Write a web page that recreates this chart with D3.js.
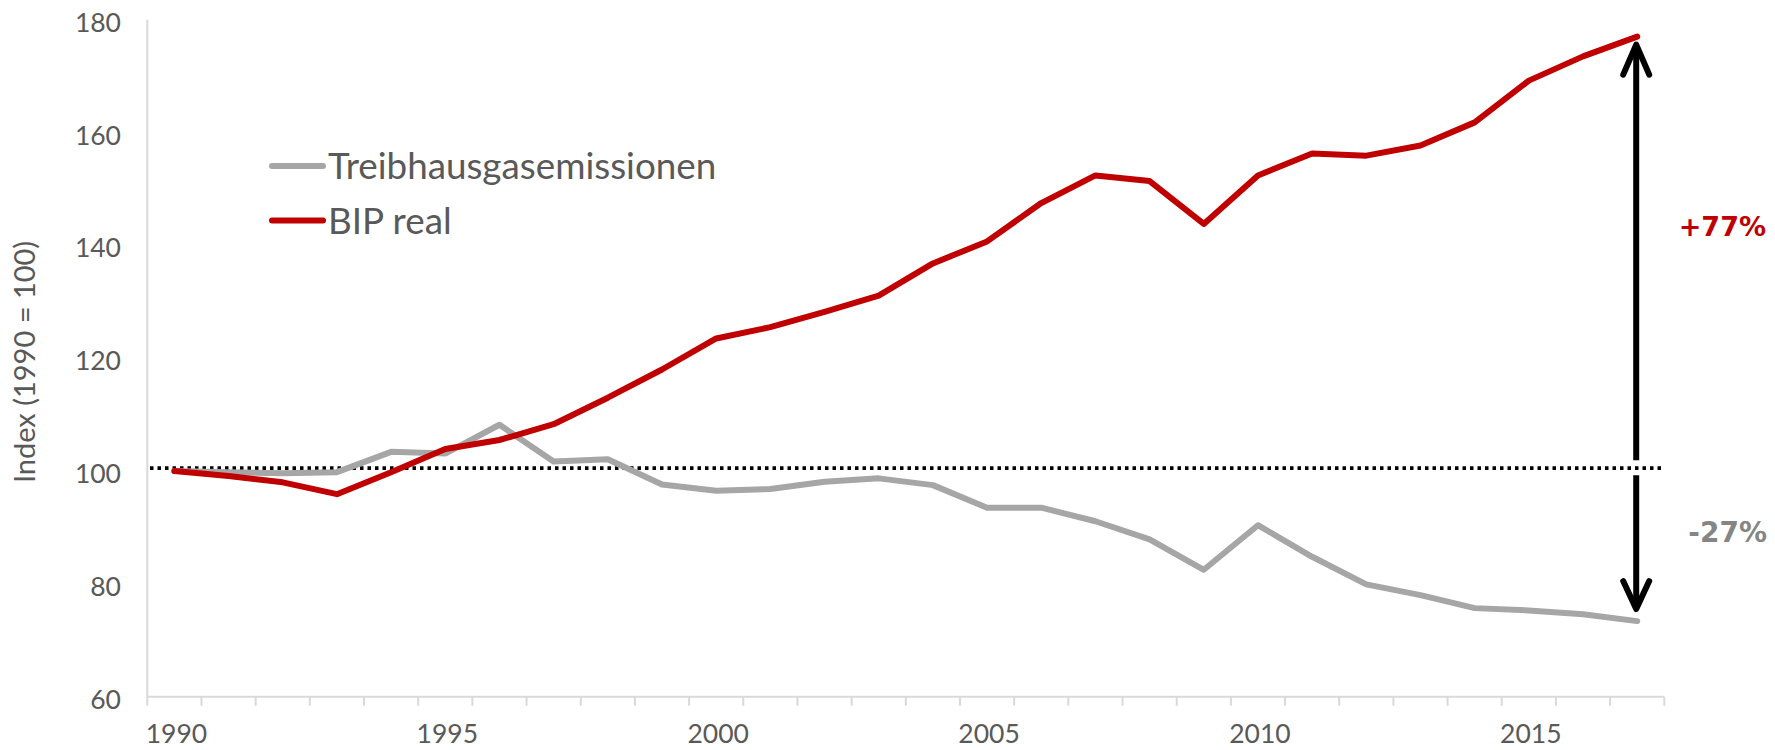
<!DOCTYPE html>
<html>
<head>
<meta charset="utf-8">
<script src="https://cdn.jsdelivr.net/npm/d3@7"></script>
<style>
  html, body { margin: 0; padding: 0; background: #ffffff; }
  svg { display: block; }
  text { font-family: "Lato", "Liberation Sans", sans-serif; }
  text.change { font-family: "DejaVu Sans", "Verdana", sans-serif; font-weight: bold; }
</style>
</head>
<body>
<svg id="chart" width="1775" height="750"></svg>
<script>
// Jahre (Kategorien der x-Achse)
const years = [1990, 1991, 1992, 1993, 1994, 1995, 1996, 1997, 1998, 1999,
               2000, 2001, 2002, 2003, 2004, 2005, 2006, 2007, 2008, 2009,
               2010, 2011, 2012, 2013, 2014, 2015, 2016, 2017];

// Treibhausgasemissionen, Index 1990 = 100
const ghg = [100.0, 99.8, 99.6, 99.8, 103.4, 103.1, 108.2, 101.7, 102.1, 97.6,
             96.5, 96.8, 98.1, 98.7, 97.5, 93.5, 93.5, 91.1, 87.9, 82.5,
             90.4, 84.8, 79.9, 78.0, 75.7, 75.3, 74.6, 73.4];

// BIP real, Index 1990 = 100
const gdp = [100.0, 99.1, 98.0, 95.9, 99.8, 103.9, 105.5, 108.3, 113.0, 118.0,
             123.5, 125.5, 128.2, 131.1, 136.8, 140.7, 147.5, 152.4, 151.4, 143.8,
             152.4, 156.3, 155.9, 157.7, 161.8, 169.2, 173.5, 177.0];

const seriesNames = ["Treibhausgasemissionen", "BIP real"];
const seriesColors = ["#A6A6A6", "#C00000"];
const yTicks = [60, 80, 100, 120, 140, 160, 180];
const xLabelYears = [1990, 1995, 2000, 2005, 2010, 2015];
const yTitle = "Index (1990 = 100)";
const referenceLevel = 100.5;   // gepunktete Basislinie

const svg = d3.select("#chart");

const x = d3.scaleBand().domain(years).range([147.3, 1664.3]);
const y = d3.scaleLinear().domain([60, 180]).range([696.7, 19.7]);
const cx = d => x(d) + x.bandwidth() / 2;

const axisColor = "#D9D9D9";
const textColor = "#595959";

// y-Achse
svg.append("line")
  .attr("x1", x.range()[0]).attr("x2", x.range()[0])
  .attr("y1", y(180)).attr("y2", y(60))
  .attr("stroke", axisColor).attr("stroke-width", 2);

svg.append("g").selectAll("text")
  .data(yTicks).join("text")
  .attr("x", 121)
  .attr("y", d => y(d) + 2.5)
  .attr("dy", "0.36em")
  .attr("text-anchor", "end")
  .attr("font-size", 26.5)
  .attr("fill", textColor)
  .text(d => d);

svg.append("text")
  .attr("transform", "translate(25,362) rotate(-90)")
  .attr("text-anchor", "middle")
  .attr("dy", "0.36em")
  .attr("font-size", 29)
  .attr("fill", textColor)
  .text(yTitle);

// x-Achse mit Teilstrichen zwischen den Kategorien
svg.append("line")
  .attr("x1", x.range()[0]).attr("x2", x.range()[1])
  .attr("y1", y(60)).attr("y2", y(60))
  .attr("stroke", axisColor).attr("stroke-width", 2);

const boundaries = years.map(d => x(d)).concat([x.range()[1]]);
svg.append("g").selectAll("line")
  .data(boundaries).join("line")
  .attr("x1", d => d).attr("x2", d => d)
  .attr("y1", y(60)).attr("y2", y(60) + 9)
  .attr("stroke", axisColor).attr("stroke-width", 2);

svg.append("g").selectAll("text")
  .data(xLabelYears).join("text")
  .attr("x", d => cx(d) + 2)
  .attr("y", 733)
  .attr("dy", "0.36em")
  .attr("text-anchor", "middle")
  .attr("font-size", 26.5)
  .attr("fill", textColor)
  .text(d => d);

// gepunktete Linie auf Indexniveau 100
svg.append("line")
  .attr("x1", 150).attr("x2", 1662)
  .attr("y1", y(referenceLevel)).attr("y2", y(referenceLevel))
  .attr("stroke", "#000").attr("stroke-width", 3.7)
  .attr("stroke-dasharray", "3.5 4");

// Datenreihen
const line = d3.line().x((d, i) => cx(years[i])).y(d => y(d));
[ghg, gdp].forEach((s, k) => {
  svg.append("path")
    .attr("d", line(s))
    .attr("fill", "none")
    .attr("stroke", seriesColors[k])
    .attr("stroke-width", 6)
    .attr("stroke-linejoin", "round")
    .attr("stroke-linecap", "round");
});

// Legende
const legend = svg.append("g");
seriesNames.forEach((name, k) => {
  const ly = 166 + k * 54.5;
  legend.append("line")
    .attr("x1", 272).attr("x2", 323)
    .attr("y1", ly).attr("y2", ly)
    .attr("stroke", seriesColors[k]).attr("stroke-width", 6)
    .attr("stroke-linecap", "round");
  legend.append("text")
    .attr("x", 328).attr("y", ly)
    .attr("dy", "0.36em")
    .attr("font-size", 36.8)
    .attr("fill", textColor)
    .text(name);
});

// Pfeile für die Veränderung 1990 bis 2017
const last = years.length - 1;
const ax = cx(years[last]) - 1;
const yRef = y(referenceLevel);
const upTip = y(gdp[last]) + 8;
const downTip = y(ghg[last]) - 12;
const arrows = svg.append("g")
  .attr("fill", "none").attr("stroke", "#000")
  .attr("stroke-width", 6).attr("stroke-linecap", "round")
  .attr("stroke-linejoin", "round");

arrows.append("line").attr("x1", ax).attr("x2", ax)
  .attr("y1", yRef - 8).attr("y2", upTip + 4).attr("stroke-linecap", "butt");
arrows.append("path")
  .attr("d", `M${ax - 13},${upTip + 30} L${ax},${upTip} L${ax + 13},${upTip + 30}`);

arrows.append("line").attr("x1", ax).attr("x2", ax)
  .attr("y1", yRef + 7).attr("y2", downTip - 4).attr("stroke-linecap", "butt");
arrows.append("path")
  .attr("d", `M${ax - 13},${downTip - 28} L${ax},${downTip} L${ax + 13},${downTip - 28}`);

// Beschriftung der Veränderung in Prozent
const pct = d3.format("+.0%");
const changeLabel = v => pct((v - 100) / 100).replace("−", "-");
svg.append("text")
  .attr("class", "change")
  .attr("x", 1766).attr("y", 226)
  .attr("dy", "0.36em")
  .attr("text-anchor", "end")
  .attr("font-size", 27)
  .attr("fill", seriesColors[1])
  .text(changeLabel(gdp[last]));
svg.append("text")
  .attr("class", "change")
  .attr("x", 1767).attr("y", 531.7)
  .attr("dy", "0.36em")
  .attr("text-anchor", "end")
  .attr("font-size", 28)
  .attr("fill", "#858585")
  .text(changeLabel(ghg[last]));
</script>
</body>
</html>
